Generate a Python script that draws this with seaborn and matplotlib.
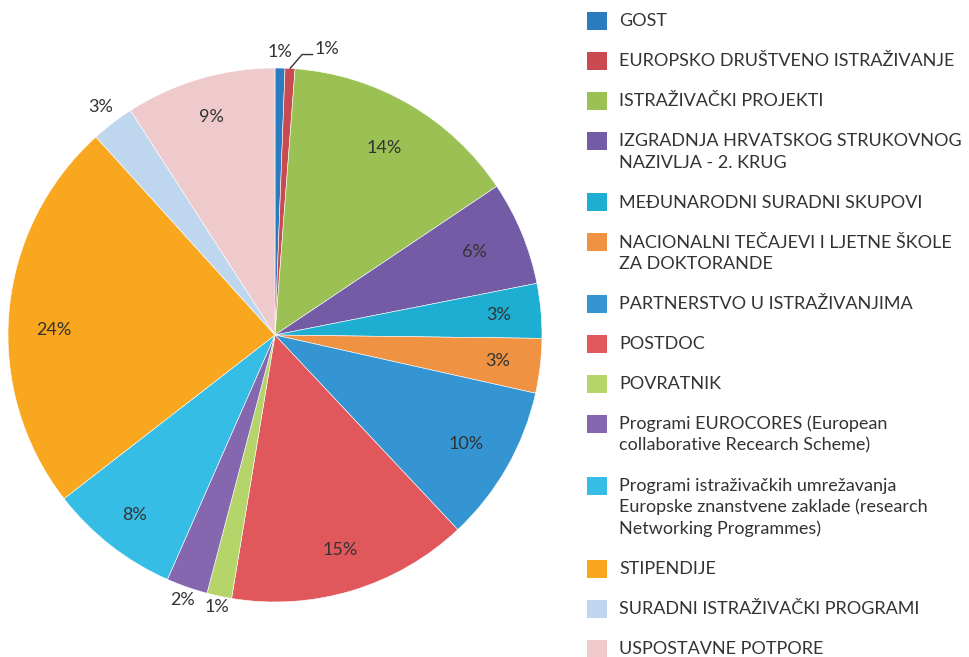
import numpy as np
import matplotlib.pyplot as plt
import seaborn as sns
from matplotlib.patches import Rectangle

categories = [
    "GOST",
    "EUROPSKO DRUŠTVENO ISTRAŽIVANJE",
    "ISTRAŽIVAČKI PROJEKTI",
    "IZGRADNJA HRVATSKOG STRUKOVNOG\nNAZIVLJA - 2. KRUG",
    "MEĐUNARODNI SURADNI SKUPOVI",
    "NACIONALNI TEČAJEVI I LJETNE ŠKOLE\nZA DOKTORANDE",
    "PARTNERSTVO U ISTRAŽIVANJIMA",
    "POSTDOC",
    "POVRATNIK",
    "Programi EUROCORES (European\ncollaborative Recearch Scheme)",
    "Programi istraživačkih umrežavanja\nEuropske znanstvene zaklade (research\nNetworking Programmes)",
    "STIPENDIJE",
    "SURADNI ISTRAŽIVAČKI PROGRAMI",
    "USPOSTAVNE POTPORE",
]
shares = [0.6, 0.6, 14.4, 6.3, 3.3, 3.3, 9.5, 14.6, 1.5, 2.5, 7.9, 23.8, 2.6, 9.1]
pct_labels = ["1%", "1%", "14%", "6%", "3%", "3%", "10%", "15%", "1%", "2%",
              "8%", "24%", "3%", "9%"]
colors = ["#2b7bbf", "#c94a51", "#9bc053", "#735ca5", "#1eaed2", "#ef9343",
          "#3595d3", "#e0585c", "#b5d469", "#8567b0", "#35bde6", "#f8a71f",
          "#bed7ee", "#efcacd"]

# label radius per slice (inside ~0.83, small slices outside) and angle nudge
label_r = [1.06, None, 0.81, 0.81, 0.84, 0.84, 0.825, 0.84, 1.04, 1.05, 0.855, 0.83, 1.075, 0.85]
label_nudge = [0, 0, 0, 0, 0, 0, 0, 0, 0, 0, 0, 3.7, 0, 0]

sns.set_theme(style="white")
plt.rcParams['font.family'] = ['Lato', 'DejaVu Sans']
TEXT = "#333333"
FS = 13

W, H = 970, 657
fig = plt.figure(figsize=(W / 100, H / 100), dpi=100)
ax = fig.add_axes([8 / W, 55 / H, 534 / W, 534 / H])

palette = sns.color_palette(colors)
wedges, _ = ax.pie(shares, colors=palette, startangle=90, counterclock=False,
                   radius=1.0, wedgeprops=dict(edgecolor="white", linewidth=0.4))
ax.set_xlim(-1, 1)
ax.set_ylim(-1, 1)
ax.axis("off")

for i, w in enumerate(wedges):
    mid = np.deg2rad((w.theta1 + w.theta2) / 2 + label_nudge[i])
    if label_r[i] is None:
        # leader line for the thin slice
        x0, y0 = np.cos(mid), np.sin(mid)
        x1, y1 = x0 + 0.045, y0 + 0.052
        x2 = x1 + 0.04
        ax.plot([x0, x1, x2], [y0, y1, y1], color=TEXT, lw=1, clip_on=False)
        ax.text(x2 + 0.005, y1 + 0.022, pct_labels[i], ha="left", va="center",
                fontsize=FS, color=TEXT)
        continue
    r = label_r[i]
    ax.text(r * np.cos(mid), r * np.sin(mid), pct_labels[i], ha="center",
            va="center", fontsize=FS, color=TEXT)

# legend drawn by hand so the square lines up with the first text line
y = 21
for name, c in zip(categories, palette):
    fig.patches.append(Rectangle((587 / W, 1 - (y + 9) / H), 20 / W, 18 / H,
                                 transform=fig.transFigure, facecolor=c,
                                 edgecolor="none"))
    fig.text(619 / W, 1 - y / H, name.split("\n")[0], ha="left", va="center",
             fontsize=FS, color=TEXT)
    for k, extra in enumerate(name.split("\n")[1:], start=1):
        fig.text(619 / W, 1 - (y + 21.5 * k) / H, extra, ha="left", va="center",
                 fontsize=FS, color=TEXT)
    y += 40 + 21.5 * name.count("\n")

fig.savefig("out.png", dpi=100)
